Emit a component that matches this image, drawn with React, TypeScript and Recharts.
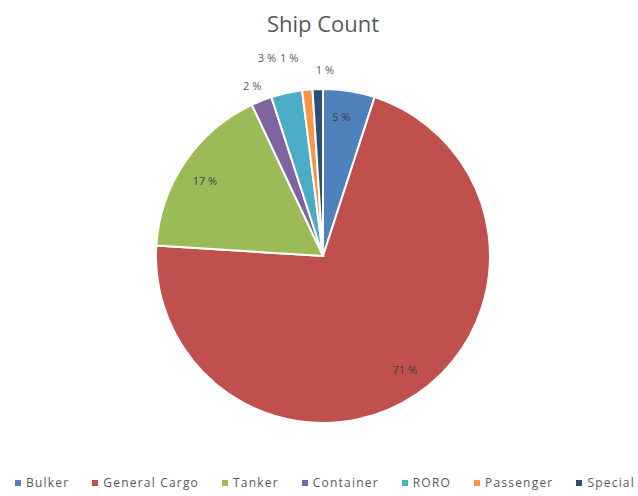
import React from 'react';
import { PieChart, Pie, Cell, Legend } from 'recharts';

const categories = ['Bulker', 'General Cargo', 'Tanker', 'Container', 'RORO', 'Passenger', 'Special'];
const shipShare = [5, 71, 17, 2, 3, 1, 1];
const colors = ['#4F81BD', '#C0504D', '#9BBB59', '#8064A2', '#4BACC6', '#F79646', '#2C4D75'];
const title = 'Ship Count';

// label placement tweaks (Excel "best fit" style), radial/angular offsets for outside labels
const outsideNudge: Record<string, { dr: number; da: number }> = {
  Container: { dr: 18, da: 0.9 },
  RORO: { dr: 39, da: 3.2 },
  Passenger: { dr: 34, da: 4.3 },
  Special: { dr: 20, da: -2.4 },
};

const data = categories.map((name, i) => ({ name, value: shipShare[i] }));
const RADIAN = Math.PI / 180;
const FONT = '"Open Sans", "Liberation Sans", sans-serif';

const renderLabel = (props: any) => {
  const { cx, cy, midAngle, outerRadius, percent, name } = props;
  const pct = Math.round(percent * 100);
  const nudge = outsideNudge[name];
  let r: number;
  let a: number;
  if (nudge) {
    r = outerRadius + nudge.dr;
    a = midAngle + nudge.da;
  } else {
    r = outerRadius * 0.84;
    a = midAngle + 1.5;
  }
  const x = cx + r * Math.cos(-a * RADIAN);
  const y = cy + r * Math.sin(-a * RADIAN);
  return (
    <text
      x={x}
      y={y}
      textAnchor="middle"
      dominantBaseline="central"
      fontSize={11}
      fontFamily={FONT}
      fill={nudge ? '#595959' : '#404040'}
    >
      {`${pct} %`}
    </text>
  );
};

const renderLegend = () => (
  <div
    style={{
      display: 'flex',
      justifyContent: 'center',
      whiteSpace: 'nowrap',
      fontFamily: FONT,
      fontSize: 12,
      letterSpacing: 1.2,
      color: '#595959',
      width: 650,
    }}
  >
    {categories.map((c, i) => (
      <div key={c} style={{ display: 'flex', alignItems: 'center', flexShrink: 0, marginRight: i < categories.length - 1 ? 23 : 0 }}>
        <span style={{ display: 'inline-block', width: 6, height: 6, background: colors[i], marginRight: 5 }} />
        <span>{c}</span>
      </div>
    ))}
  </div>
);

export default function App() {
  return (
    <div style={{ position: 'absolute', left: 0, top: 0, width: 638, height: 496, overflow: 'hidden', background: '#fff' }}>
      <div
        style={{
          position: 'absolute',
          top: 7,
          left: 4,
          width: 638,
          textAlign: 'center',
          fontFamily: FONT,
          fontSize: 22,
          color: '#595959',
          lineHeight: '32px',
        }}
      >
        {title}
      </div>
      <PieChart width={638} height={496} margin={{ top: 0, right: 0, bottom: 0, left: 0 }}>
        <Pie
          data={data}
          dataKey="value"
          nameKey="name"
          cx={323}
          cy={256}
          outerRadius={167}
          startAngle={90}
          endAngle={-270}
          stroke="#ffffff"
          strokeWidth={2}
          label={renderLabel}
          labelLine={false}
          isAnimationActive={false}
        >
          {data.map((d, i) => (
            <Cell key={d.name} fill={colors[i]} />
          ))}
        </Pie>
        <Legend
          content={renderLegend}
          wrapperStyle={{ position: 'absolute', top: 474, left: 0, width: 650, height: 18, bottom: 'auto' }}
        />
      </PieChart>
    </div>
  );
}
